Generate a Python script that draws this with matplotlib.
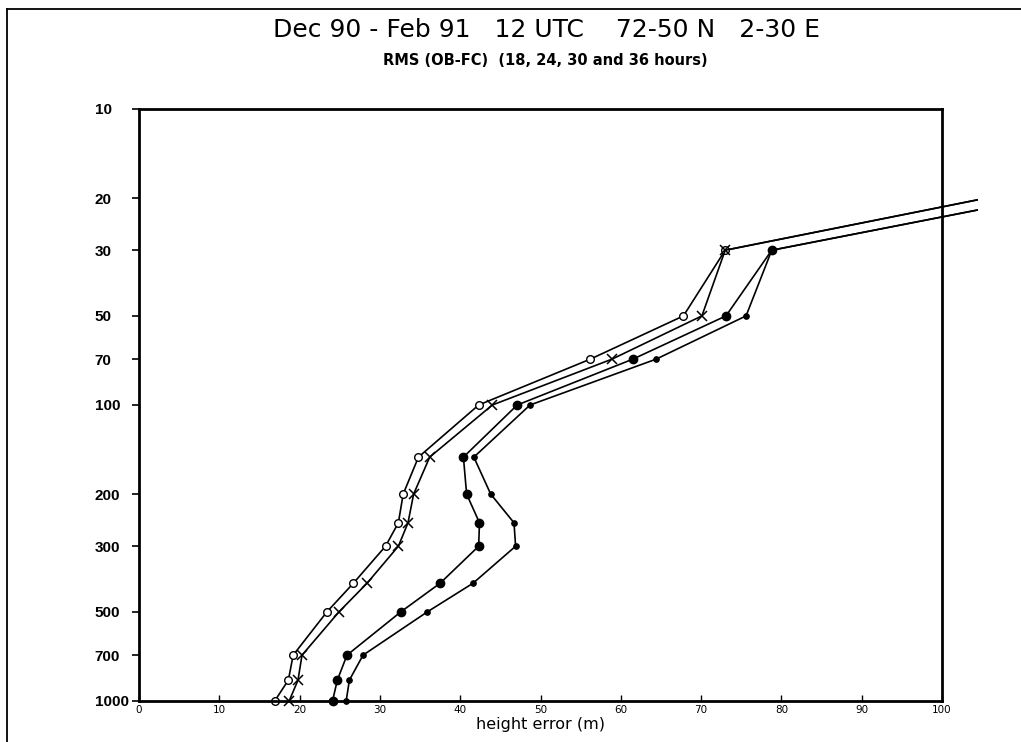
import matplotlib
matplotlib.use("Agg")
import matplotlib.pyplot as plt
from matplotlib.patches import Rectangle
from matplotlib.lines import Line2D

# ----------------------- Data ------------------------------------------------
levels = [1000, 850, 700, 500, 400, 300, 250, 200, 150, 100, 70, 50, 30, 20]

rms_18h = [16.9, 18.6, 19.2, 23.4, 26.7, 30.7, 32.3, 32.9, 34.8, 42.3, 56.2, 67.8, 73.0, 105.5]
rms_24h = [18.7, 19.8, 20.3, 24.9, 28.4, 32.3, 33.5, 34.2, 36.2, 44.0, 58.9, 70.1, 73.0, 105.5]
rms_30h = [24.1, 24.7, 25.9, 32.6, 37.5, 42.3, 42.4, 40.8, 40.4, 47.1, 61.5, 73.1, 78.8, 112.0]
rms_36h = [25.8, 26.2, 27.9, 35.9, 41.6, 46.9, 46.7, 43.8, 41.7, 48.7, 64.4, 75.6, 78.8, 112.0]

y_ticks = [10, 20, 30, 50, 70, 100, 200, 300, 500, 700, 1000]
x_ticks = list(range(0, 101, 10))

title = "Dec 90 - Feb 91   12 UTC    72-50 N   2-30 E"
subtitle = "RMS (OB-FC)  (18, 24, 30 and 36 hours)"
xlabel = "height error (m)"

W, H = 1021, 742
fig = plt.figure(figsize=(W / 100, H / 100), dpi=100)

# axes box in pixel coordinates of the scan
left, right, top, bottom = 139, 942, 109, 701
ax = fig.add_axes([left / W, 1 - bottom / H, (right - left) / W, (bottom - top) / H])

ax.set_yscale("log")
ax.set_ylim(1000, 10)
ax.set_xlim(0, 100)

# lines run a bit past the right edge of the frame, like the plotter output
clip = Rectangle((-5, 5), 109.5, 1200, transform=ax.transData, fill=False, visible=False)
fig.add_artist(clip)

styles = [
    (rms_18h, dict(marker="o", ms=5.5, mfc="white", mec="black", mew=1.0)),
    (rms_24h, dict(marker="x", ms=6.5, mec="black", mew=1.1)),
    (rms_30h, dict(marker="o", ms=6, mfc="black", mec="black", mew=1.0)),
    (rms_36h, dict(marker="o", ms=4, mfc="black", mec="black", mew=0.8)),
]
for vals, st in styles:
    ln, = ax.plot(vals, levels, color="black", lw=1.2, **st)
    ln.set_clip_path(clip)

ax.set_yticks(y_ticks)
ax.set_yticklabels([str(t) for t in y_ticks])
ax.yaxis.set_minor_locator(matplotlib.ticker.NullLocator())
ax.set_xticks(x_ticks)
ax.set_xticklabels([str(t) for t in x_ticks])

ax.tick_params(axis="y", direction="out", length=5, width=1.2, labelsize=11, pad=27)
for lab in ax.get_yticklabels():
    lab.set_horizontalalignment("left")
    lab.set_family(["Liberation Sans", "DejaVu Sans"])
    lab.set_fontweight("bold")
ax.tick_params(axis="x", direction="in", length=4, width=1.0, labelsize=7.5, pad=3)

for sp in ax.spines.values():
    sp.set_linewidth(2.0)

ax.set_xlabel(xlabel, fontsize=11.5, labelpad=1)

fig.text(546 / W, 1 - 37 / H, title, ha="center", va="baseline", fontsize=18,
         family=["DejaVu Sans"])
fig.text(545 / W, 1 - 65 / H, subtitle, ha="center", va="baseline", fontsize=10.5,
         fontweight="bold")

# outer frame of the page
fig.add_artist(Line2D([7 / W, 7 / W], [0, 1 - 9 / H], color="black", lw=1.3))
fig.add_artist(Line2D([7 / W, 1], [1 - 9 / H, 1 - 9 / H], color="black", lw=1.3))

fig.savefig("out.png", dpi=100)
